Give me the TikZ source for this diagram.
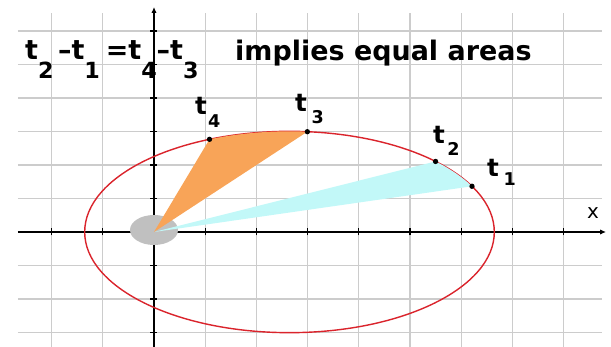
\documentclass[tikz,border=0pt]{standalone}
\usepackage{fontspec}
\setmainfont{DejaVu Sans}
\usetikzlibrary{arrows.meta,calc}
\definecolor{gridgray}{RGB}{204,204,204}
\definecolor{orbitred}{RGB}{218,36,44}
\definecolor{sectororange}{RGB}{248,164,88}
\definecolor{sectorcyan}{RGB}{194,248,248}
\definecolor{sungray}{RGB}{192,192,192}
\newcommand{\fsub}[1]{\raisebox{-16pt}{\fontsize{19}{19}\selectfont #1}}
\newcommand{\plab}[3]{t\hspace{#1}\raisebox{-#2}{\fontsize{15}{15}\selectfont #3}}
\begin{document}
\begin{tikzpicture}[x=0.03cm,y=0.03cm,
 gridline/.style={draw=gridgray,line width=0.9pt},
 axis/.style={draw=black,line width=1.2pt,-{Latex[length=5pt,width=4.5pt]}},
 tick/.style={draw=black,line width=1pt},
 orbit/.style={draw=orbitred,line width=1.2pt},
 dot/.style={circle,fill=black,inner sep=0pt,minimum size=0.16cm},
 lab/.style={anchor=base west,inner sep=0pt,font=\fontsize{21}{21}\selectfont\bfseries},
 big/.style={anchor=base west,inner sep=0pt,font=\fontsize{23}{28}\selectfont\bfseries}]
\useasboundingbox (-154,-115) rectangle (457,232);
% grid
\foreach \k in {-2,...,8} \draw[gridline] (\k*51.2,-115) -- (\k*51.2,219);
\foreach \j in {-3,...,6} \draw[gridline] (-136,\j*33.5) -- (448,\j*33.5);
% axes
\coordinate (xs) at (-136,0); \coordinate (xe) at (452,0);
\coordinate (ys) at (0,-115); \coordinate (ye) at (0,225);
\draw[axis] (xs) -- (xe);
\draw[axis] (ys) -- (ye);
\foreach \k in {-2,-1,1,2,3,4,5,6,7,8} \draw[tick] (\k*51.2,-3.5) -- (\k*51.2,3.5);
\foreach \j in {-3,-2,-1,1,2,3,4,5,6} \draw[tick] (-3.5,\j*33.5) -- (3.5,\j*33.5);
% orbit
\coordinate (O) at (0,0);
\coordinate (C) at (135.5,0);
\draw[orbit] (C) ellipse [x radius=6.144cm, y radius=3.02cm];
% sun
\fill[sungray] (0,2) ellipse [x radius=0.72cm, y radius=0.45cm];
% positions
\coordinate (p1) at ($(C)+(27:6.144cm and 3.02cm)$);
\coordinate (p2) at ($(C)+(44.5:6.144cm and 3.02cm)$);
\coordinate (p3) at ($(C)+(85:6.144cm and 3.02cm)$);
\coordinate (p4) at ($(C)+(113:6.144cm and 3.02cm)$);
% sectors
\fill[sectorcyan] (O) -- (p1) arc[start angle=27,end angle=44.5,x radius=6.144cm,y radius=3.02cm] -- cycle;
\fill[sectororange] (O) -- (p4) arc[start angle=113,end angle=85,x radius=6.144cm,y radius=3.02cm] -- cycle;
% dots
\node[dot] (d1) at (p1) {};
\node[dot] (d2) at (p2) {};
\node[dot] (d3) at (p3) {};
\node[dot] (d4) at (p4) {};
% labels
\node[lab] (l4) at (41,117) {\plab{1pt}{11pt}{4}};
\node[lab] (l3) at (141,120) {\plab{4pt}{9.4pt}{3}};
\node[lab] (l2) at (279,88) {\plab{2pt}{9.4pt}{2}};
\node[lab] (l1) at (333,55) {\plab{4pt}{7pt}{1}};
\node[anchor=base west,inner sep=0pt,font=\fontsize{17}{17}\selectfont] (xl) at (433,13) {x};
\node[big] (eq) at (-129,172) {t\fsub{2}\,–t\fsub{1}\hspace{5pt}=t\fsub{4}–t\fsub{3}};
\node[big] (txt) at (81,171) {implies equal areas};
\end{tikzpicture}
\end{document}
